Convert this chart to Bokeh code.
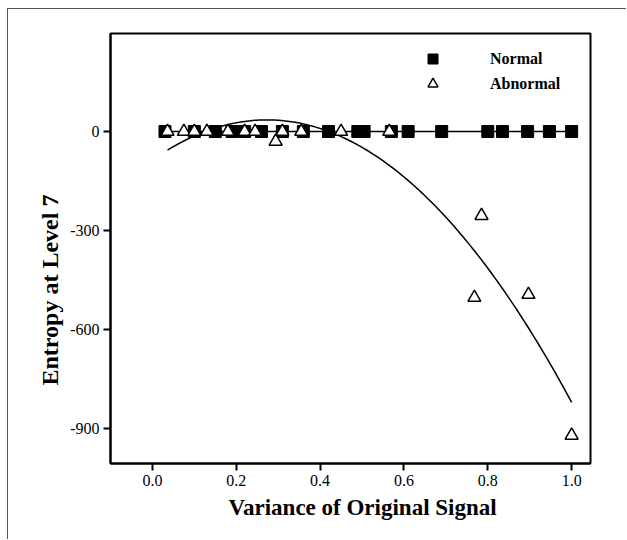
import numpy as np
from bokeh.plotting import figure
from bokeh.models import Range1d, FixedTicker, Legend, LegendItem, Title
from bokeh.embed import file_html
from bokeh.resources import INLINE

# ---- data ----
normal_x = [0.03, 0.10, 0.15, 0.19, 0.22, 0.26, 0.31, 0.36, 0.42, 0.49, 0.505,
            0.57, 0.61, 0.69, 0.80, 0.835, 0.895, 0.947, 1.0]
normal_y = [0, 0, 0, 0, 0, 0, 0, 0, 0, 0, 0, 0, 0, 0, 0, 0, 0, 0, 0]

abnormal_x = [0.036, 0.075, 0.10, 0.13, 0.18, 0.22, 0.245, 0.294, 0.31, 0.355,
              0.45, 0.565, 0.768, 0.785, 0.897, 1.0]
abnormal_y = [0, 0, 0, 0, 0, 0, 0, -30, 0, 0, 0, 0, -503, -255, -494, -921]

x_ticks = [0.0, 0.2, 0.4, 0.6, 0.8, 1.0]
y_ticks = [0, -300, -600, -900]

x_label = "Variance of Original Signal"
y_label = "Entropy at Level 7"

SERIF = "Liberation Serif"

p = figure(width=619, height=531, output_backend="svg", toolbar_location=None,
           x_range=Range1d(-0.1, 1.045), y_range=Range1d(-1006, 297),
           min_border_left=102, min_border_right=37, min_border_top=24, min_border_bottom=77,
           styles={"margin-left": "7px", "margin-top": "8px",
                   "border-left": "1px solid #555", "border-top": "1px solid #555"})
p.grid.visible = False
p.outline_line_color = "black"
p.outline_line_width = 2
p.outline_line_alpha = 1

for ax in (p.xaxis[0], p.yaxis[0]):
    ax.axis_line_width = 2
    ax.major_tick_line_width = 2
    ax.major_tick_out = 7
    ax.major_tick_in = 0
    ax.minor_tick_line_color = None
    ax.major_label_text_font = SERIF
    ax.major_label_text_font_size = "16px"
    ax.major_label_text_color = "black"
    ax.major_label_standoff = 4

p.xaxis.ticker = FixedTicker(ticks=x_ticks)
p.yaxis.ticker = FixedTicker(ticks=y_ticks)
p.xaxis.major_label_overrides = {t: f"{t:.1f}" for t in x_ticks}
p.yaxis.major_label_overrides = {t: str(t) for t in y_ticks}

# axis titles placed as side titles so they can sit off-centre like the reference
p.add_layout(Title(text=x_label, align="left", offset=118, standoff=9,
                   text_font=SERIF, text_font_style="bold", text_font_size="23px",
                   text_color="black"), "below")
p.add_layout(Title(text=y_label, align="left", offset=78, standoff=10,
                   text_font=SERIF, text_font_style="bold", text_font_size="24px",
                   text_color="black"), "left")

# fit lines computed from the data
cn = np.polyfit(normal_x, normal_y, 1)
xn = np.linspace(min(normal_x), max(normal_x), 50)
p.line(xn, np.polyval(cn, xn), line_color="black", line_width=1.5)

ca = np.polyfit(abnormal_x, abnormal_y, 2)
xa = np.linspace(min(abnormal_x), max(abnormal_x), 200)
p.line(xa, np.polyval(ca, xa), line_color="black", line_width=1.5)

r_n = p.scatter(normal_x, normal_y, marker="square", size=12,
                fill_color="black", line_color="black")
r_a = p.scatter(abnormal_x, abnormal_y, marker="triangle", size=13,
                fill_color="white", line_color="black", line_width=1.5)

legend = Legend(items=[LegendItem(label="Normal", renderers=[r_n]),
                       LegendItem(label="Abnormal", renderers=[r_a])],
                location=(310, 367), padding=0, margin=0, spacing=0,
                glyph_width=25, glyph_height=25, label_height=20,
                label_standoff=45, border_line_color=None,
                background_fill_alpha=0,
                label_text_font=SERIF, label_text_font_style="bold",
                label_text_font_size="16px", label_text_color="black")
p.add_layout(legend)

open("out.html", "w").write(file_html(p, INLINE))
